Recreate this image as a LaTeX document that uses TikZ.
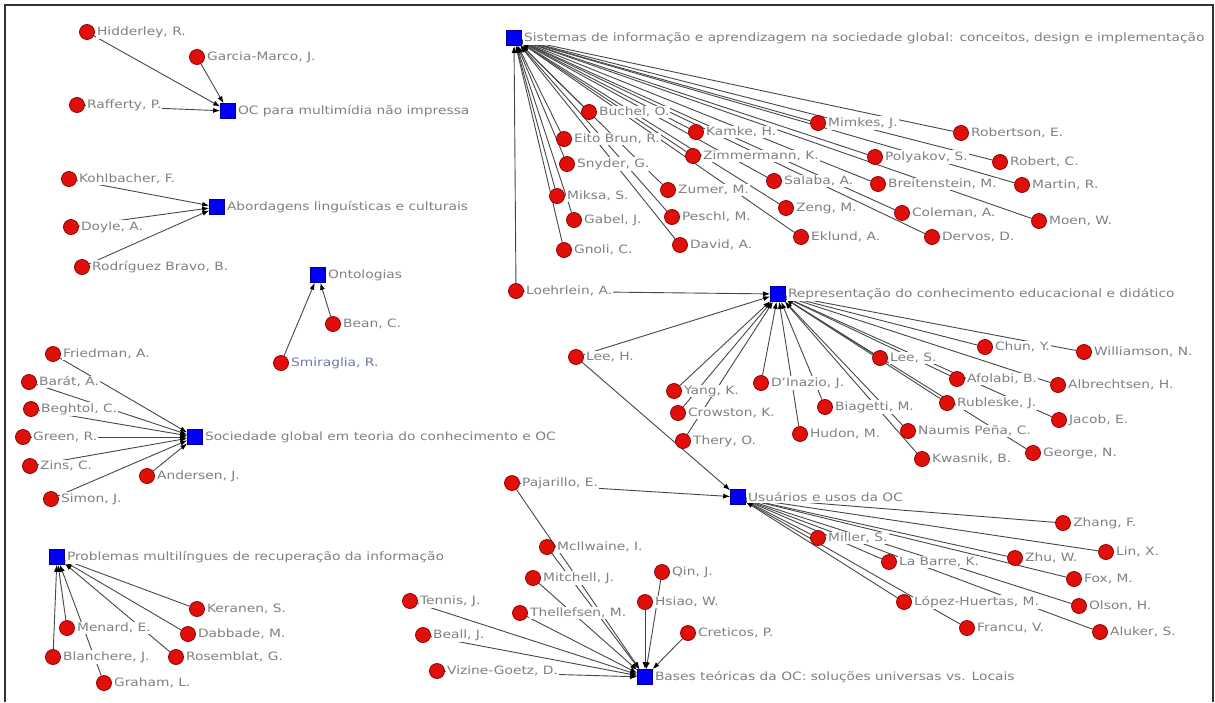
\documentclass[tikz,border=0pt]{standalone}
\usepackage{fontspec}
\setmainfont{DejaVu Sans}[FakeStretch=1.2]
\usetikzlibrary{arrows.meta,backgrounds}
\definecolor{nodered}{RGB}{225,15,10}
\definecolor{noderim}{RGB}{140,0,0}
\definecolor{topicblue}{RGB}{0,0,250}
\definecolor{lblgray}{RGB}{128,128,128}
\definecolor{lblblue}{RGB}{110,120,170}
\definecolor{edgegray}{RGB}{70,70,70}
\tikzset{
  author/.style={circle,fill=nodered,draw=noderim,line width=0.8pt,minimum size=15pt,inner sep=0pt},
  topic/.style={rectangle,fill=topicblue,draw=topicblue!60!black,line width=0.6pt,minimum size=15pt,inner sep=0pt},
  lbl/.style={fill=white,text=lblgray,inner sep=1pt,label distance=1pt,font=\fontsize{11.5}{13}\selectfont},
  edge/.style={draw=edgegray,line width=0.9pt,-{Latex[length=7pt,width=5pt,color=black]}},
}
\begin{document}
\begin{tikzpicture}[x=1pt,y=-1pt]
\useasboundingbox (0,0) rectangle (1215,702);
\draw[black!80,line width=1.2pt] (5,702) -- (5,5) -- (1213,5) -- (1213,702);

\node[topic,label={[lbl]right:{OC para multimídia não impressa}}] (multimidia) at (228,111) {};
\node[author,label={[lbl]right:{Hidderley, R.}}] (hidderley) at (87,32) {};
\node[author,label={[lbl]right:{Garcia-Marco, J.}}] (garcia) at (197,57) {};
\node[author,label={[lbl]right:{Rafferty, P.}}] (rafferty) at (77,105) {};

\node[topic,label={[lbl]right:{Abordagens linguísticas e culturais}}] (linguisticas) at (217,207) {};
\node[author,label={[lbl]right:{Kohlbacher, F.}}] (kohlbacher) at (69,179) {};
\node[author,label={[lbl]right:{Doyle, A.}}] (doyle) at (71,227) {};
\node[author,label={[lbl]right:{Rodríguez Bravo, B.}}] (rodriguez) at (82,267) {};

\node[topic,label={[lbl]right:{Ontologias}}] (ontologias) at (318,275) {};
\node[author,label={[lbl]right:{Bean, C.}}] (bean) at (333,324) {};
\node[author,label={[lbl,text=lblblue]right:{Smiraglia, R.}}] (smiraglia) at (281,363) {};

\node[topic,label={[lbl]right:{Sociedade global em teoria do conhecimento e OC}}] (sociedade) at (195,437) {};
\node[author,label={[lbl]right:{Friedman, A.}}] (friedman) at (53,354) {};
\node[author,label={[lbl]right:{Barát, A.}}] (barat) at (29,382) {};
\node[author,label={[lbl]right:{Beghtol, C.}}] (beghtol) at (31,409) {};
\node[author,label={[lbl]right:{Green, R.}}] (green) at (23,437) {};
\node[author,label={[lbl]right:{Zins, C.}}] (zins) at (30,466) {};
\node[author,label={[lbl]right:{Simon, J.}}] (simon) at (51,499) {};
\node[author,label={[lbl]right:{Andersen, J.}}] (andersen) at (147,476) {};

\node[topic,label={[lbl]right:{Problemas multilíngues de recuperação da informação}}] (multilingues) at (57,557) {};
\node[author,label={[lbl]right:{Keranen, S.}}] (keranen) at (197,609) {};
\node[author,label={[lbl]right:{Menard, E.}}] (menard) at (67,628) {};
\node[author,label={[lbl]right:{Dabbade, M.}}] (dabbade) at (188,634) {};
\node[author,label={[lbl]right:{Blanchere, J.}}] (blanchere) at (53,657) {};
\node[author,label={[lbl]right:{Rosemblat, G.}}] (rosemblat) at (176,657) {};
\node[author,label={[lbl]right:{Graham, L.}}] (graham) at (104,683) {};

\node[topic,label={[lbl]right:{Sistemas de informação e aprendizagem na sociedade global: conceitos, design e implementação}}] (sistemas) at (514,38) {};
\node[author,label={[lbl]right:{Buchel, O.}}] (buchel) at (589,112) {};
\node[author,label={[lbl]right:{Eito Brun, R.}}] (eito) at (564,139) {};
\node[author,label={[lbl]right:{Snyder, G.}}] (snyder) at (567,164) {};
\node[author,label={[lbl]right:{Miksa, S.}}] (miksa) at (557,196) {};
\node[author,label={[lbl]right:{Gabel, J.}}] (gabel) at (574,220) {};
\node[author,label={[lbl]right:{Gnoli, C.}}] (gnoli) at (564,250) {};
\node[author,label={[lbl]right:{Kamke, H.}}] (kamke) at (696,132) {};
\node[author,label={[lbl]right:{Zimmermann, K.}}] (zimmermann) at (693,156) {};
\node[author,label={[lbl]right:{Zumer, M.}}] (zumer) at (668,190) {};
\node[author,label={[lbl]right:{Peschl, M.}}] (peschl) at (672,217) {};
\node[author,label={[lbl]right:{David, A.}}] (david) at (680,245) {};
\node[author,label={[lbl]right:{Mimkes, J.}}] (mimkes) at (818,123) {};
\node[author,label={[lbl]right:{Salaba, A.}}] (salaba) at (774,181) {};
\node[author,label={[lbl]right:{Zeng, M.}}] (zeng) at (786,208) {};
\node[author,label={[lbl]right:{Eklund, A.}}] (eklund) at (801,237) {};
\node[author,label={[lbl]right:{Polyakov, S.}}] (polyakov) at (875,157) {};
\node[author,label={[lbl]right:{Breitenstein, M.}}] (breitenstein) at (878,184) {};
\node[author,label={[lbl]right:{Coleman, A.}}] (coleman) at (902,213) {};
\node[author,label={[lbl]right:{Dervos, D.}}] (dervos) at (932,237) {};
\node[author,label={[lbl]right:{Robertson, E.}}] (robertson) at (961,133) {};
\node[author,label={[lbl]right:{Robert, C.}}] (robert) at (1000,162) {};
\node[author,label={[lbl]right:{Martin, R.}}] (martin) at (1022,185) {};
\node[author,label={[lbl]right:{Moen, W.}}] (moen) at (1039,221) {};
\node[author,label={[lbl]right:{Loehrlein, A.}}] (loehrlein) at (516,291) {};

\node[topic,label={[lbl]right:{Representação do conhecimento educacional e didático}}] (educacional) at (778,294) {};
\node[author,label={[lbl]right:{Lee, H.}}] (leeh) at (576,357) {};
\node[author,label={[lbl]right:{Yang, K.}}] (yang) at (674,391) {};
\node[author,label={[lbl]right:{Crowston, K.}}] (crowston) at (678,413) {};
\node[author,label={[lbl]right:{Thery, O.}}] (thery) at (683,441) {};
\node[author,label={[lbl]right:{D'Inazio, J.}}] (dinazio) at (761,383) {};
\node[author,label={[lbl]right:{Hudon, M.}}] (hudon) at (800,434) {};
\node[author,label={[lbl]right:{Biagetti, M.}}] (biagetti) at (825,407) {};
\node[author,label={[lbl]right:{Lee, S.}}] (lees) at (880,358) {};
\node[author,label={[lbl]right:{Naumis Peña, C.}}] (naumis) at (908,431) {};
\node[author,label={[lbl]right:{Kwasnik, B.}}] (kwasnik) at (922,459) {};
\node[author,label={[lbl]right:{Chun, Y.}}] (chun) at (985,347) {};
\node[author,label={[lbl]right:{Afolabi, B.}}] (afolabi) at (957,379) {};
\node[author,label={[lbl]right:{Rubleske, J.}}] (rubleske) at (947,403) {};
\node[author,label={[lbl]right:{Williamson, N.}}] (williamson) at (1084,352) {};
\node[author,label={[lbl]right:{Albrechtsen, H.}}] (albrechtsen) at (1058,385) {};
\node[author,label={[lbl]right:{Jacob, E.}}] (jacob) at (1059,420) {};
\node[author,label={[lbl]right:{George, N.}}] (george) at (1033,453) {};

\node[topic,label={[lbl]right:{Usuários e usos da OC}}] (usuarios) at (738,497) {};
\node[author,label={[lbl]right:{Pajarillo, E.}}] (pajarillo) at (512,483) {};
\node[author,label={[lbl]right:{Zhang, F.}}] (zhang) at (1063,523) {};
\node[author,label={[lbl]right:{Lin, X.}}] (lin) at (1106,552) {};
\node[author,label={[lbl]right:{Miller, S.}}] (miller) at (818,538) {};
\node[author,label={[lbl]right:{La Barre, K.}}] (labarre) at (889,562) {};
\node[author,label={[lbl]right:{Zhu, W.}}] (zhu) at (1015,558) {};
\node[author,label={[lbl]right:{Fox, M.}}] (fox) at (1074,579) {};
\node[author,label={[lbl]right:{Olson, H.}}] (olson) at (1079,606) {};
\node[author,label={[lbl]right:{López-Huertas, M.}}] (lopez) at (904,602) {};
\node[author,label={[lbl]right:{Francu, V.}}] (francu) at (967,628) {};
\node[author,label={[lbl]right:{Aluker, S.}}] (aluker) at (1100,632) {};

\node[topic,label={[lbl]right:{Bases teóricas da OC: soluções universas vs. Locais}}] (bases) at (645,677) {};
\node[author,label={[lbl]right:{McIlwaine, I.}}] (mcilwaine) at (547,547) {};
\node[author,label={[lbl]right:{Mitchell, J.}}] (mitchell) at (533,578) {};
\node[author,label={[lbl]right:{Qin, J.}}] (qin) at (662,572) {};
\node[author,label={[lbl]right:{Tennis, J.}}] (tennis) at (410,601) {};
\node[author,label={[lbl]right:{Hsiao, W.}}] (hsiao) at (645,602) {};
\node[author,label={[lbl]right:{Thellefsen, M.}}] (thellefsen) at (520,613) {};
\node[author,label={[lbl]right:{Creticos, P.}}] (creticos) at (688,633) {};
\node[author,label={[lbl]right:{Beall, J.}}] (beall) at (423,635) {};
\node[author,label={[lbl]right:{Vizine-Goetz, D.}}] (vizine) at (437,671) {};

\begin{pgfonlayer}{background}
\draw[edge] (hidderley) -- (multimidia);
\draw[edge] (garcia) -- (multimidia);
\draw[edge] (rafferty) -- (multimidia);
\draw[edge] (kohlbacher) -- (linguisticas);
\draw[edge] (doyle) -- (linguisticas);
\draw[edge] (rodriguez) -- (linguisticas);
\draw[edge] (bean) -- (ontologias);
\draw[edge] (smiraglia) -- (ontologias);
\draw[edge] (friedman) -- (sociedade);
\draw[edge] (barat) -- (sociedade);
\draw[edge] (beghtol) -- (sociedade);
\draw[edge] (green) -- (sociedade);
\draw[edge] (zins) -- (sociedade);
\draw[edge] (simon) -- (sociedade);
\draw[edge] (andersen) -- (sociedade);
\draw[edge] (keranen) -- (multilingues);
\draw[edge] (menard) -- (multilingues);
\draw[edge] (dabbade) -- (multilingues);
\draw[edge] (blanchere) -- (multilingues);
\draw[edge] (rosemblat) -- (multilingues);
\draw[edge] (graham) -- (multilingues);
\draw[edge] (buchel) -- (sistemas);
\draw[edge] (eito) -- (sistemas);
\draw[edge] (snyder) -- (sistemas);
\draw[edge] (miksa) -- (sistemas);
\draw[edge] (gabel) -- (sistemas);
\draw[edge] (gnoli) -- (sistemas);
\draw[edge] (kamke) -- (sistemas);
\draw[edge] (zimmermann) -- (sistemas);
\draw[edge] (zumer) -- (sistemas);
\draw[edge] (peschl) -- (sistemas);
\draw[edge] (david) -- (sistemas);
\draw[edge] (mimkes) -- (sistemas);
\draw[edge] (salaba) -- (sistemas);
\draw[edge] (zeng) -- (sistemas);
\draw[edge] (eklund) -- (sistemas);
\draw[edge] (polyakov) -- (sistemas);
\draw[edge] (breitenstein) -- (sistemas);
\draw[edge] (coleman) -- (sistemas);
\draw[edge] (dervos) -- (sistemas);
\draw[edge] (robertson) -- (sistemas);
\draw[edge] (robert) -- (sistemas);
\draw[edge] (martin) -- (sistemas);
\draw[edge] (moen) -- (sistemas);
\draw[edge] (loehrlein) -- (sistemas);
\draw[edge] (loehrlein) -- (educacional);
\draw[edge] (leeh) -- (educacional);
\draw[edge] (yang) -- (educacional);
\draw[edge] (crowston) -- (educacional);
\draw[edge] (thery) -- (educacional);
\draw[edge] (dinazio) -- (educacional);
\draw[edge] (hudon) -- (educacional);
\draw[edge] (biagetti) -- (educacional);
\draw[edge] (lees) -- (educacional);
\draw[edge] (naumis) -- (educacional);
\draw[edge] (kwasnik) -- (educacional);
\draw[edge] (chun) -- (educacional);
\draw[edge] (afolabi) -- (educacional);
\draw[edge] (rubleske) -- (educacional);
\draw[edge] (williamson) -- (educacional);
\draw[edge] (albrechtsen) -- (educacional);
\draw[edge] (jacob) -- (educacional);
\draw[edge] (george) -- (educacional);
\draw[edge] (leeh) -- (usuarios);
\draw[edge] (pajarillo) -- (usuarios);
\draw[edge] (zhang) -- (usuarios);
\draw[edge] (lin) -- (usuarios);
\draw[edge] (miller) -- (usuarios);
\draw[edge] (labarre) -- (usuarios);
\draw[edge] (zhu) -- (usuarios);
\draw[edge] (fox) -- (usuarios);
\draw[edge] (olson) -- (usuarios);
\draw[edge] (lopez) -- (usuarios);
\draw[edge] (francu) -- (usuarios);
\draw[edge] (aluker) -- (usuarios);
\draw[edge] (pajarillo) -- (bases);
\draw[edge] (mcilwaine) -- (bases);
\draw[edge] (mitchell) -- (bases);
\draw[edge] (qin) -- (bases);
\draw[edge] (tennis) -- (bases);
\draw[edge] (hsiao) -- (bases);
\draw[edge] (thellefsen) -- (bases);
\draw[edge] (creticos) -- (bases);
\draw[edge] (beall) -- (bases);
\draw[edge] (vizine) -- (bases);
\end{pgfonlayer}
\end{tikzpicture}
\end{document}
